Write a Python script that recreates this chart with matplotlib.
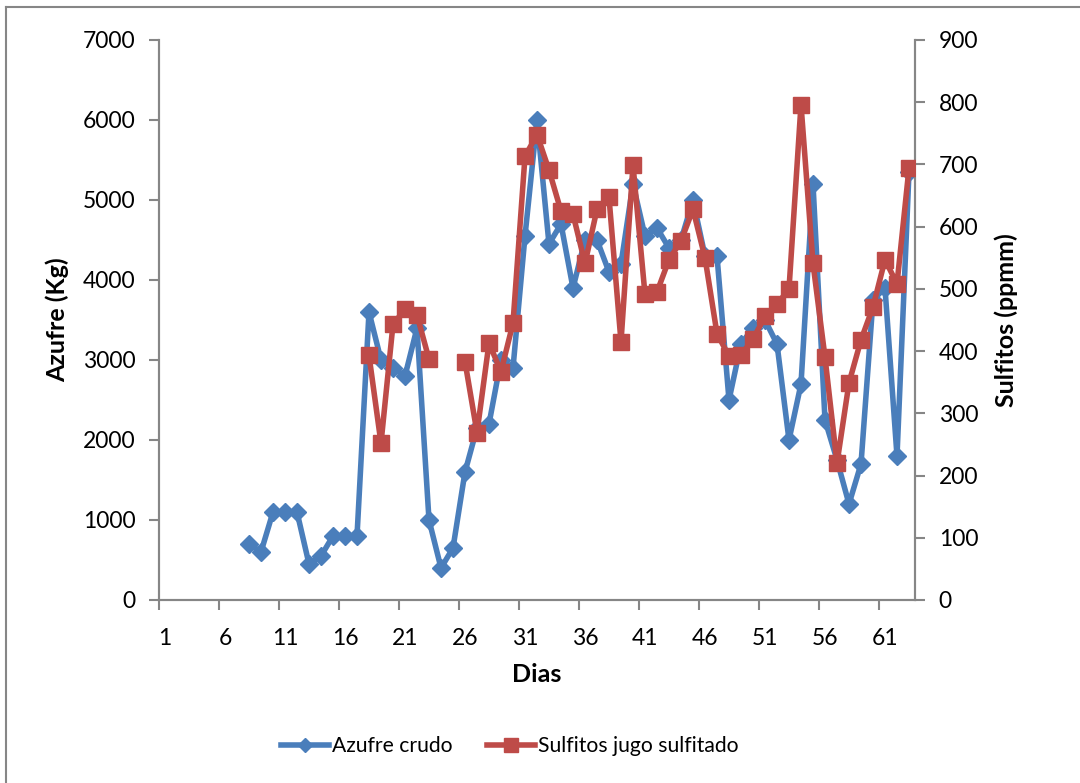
import numpy as np
import matplotlib
matplotlib.use("Agg")
import matplotlib.pyplot as plt

plt.rcParams['font.family'] = ['Lato', 'DejaVu Sans']

# dias 1..63
dias = np.arange(1, 64)

# Azufre crudo (Kg), dias 8..63
azufre_dias = np.arange(8, 64)
azufre = [700, 600, 1100, 1100, 1100, 450, 550, 800, 800, 800,
          3600, 3000, 2900, 2800, 3400, 1000, 400, 650, 1600, 2150,
          2200, 3000, 2900, 4550, 6000, 4450, 4700, 3900, 4500, 4500,
          4100, 4200, 5200, 4550, 4650, 4400, 4500, 5000, 4300, 4300,
          2500, 3200, 3400, 3500, 3200, 2000, 2700, 5200, 2250, 1750,
          1200, 1700, 3750, 3900, 1800, 5350]

# Sulfitos jugo sulfitado (ppmm), dias 18..63 (24 y 25 sin dato)
sulfitos_dias = np.arange(18, 64)
sulfitos = [393, 252, 443, 467, 458, 387, np.nan, np.nan, 383, 269,
            413, 367, 445, 713, 748, 691, 625, 620, 541, 628,
            647, 415, 699, 491, 495, 547, 577, 628, 550, 428,
            392, 394, 419, 456, 475, 500, 796, 541, 390, 220,
            349, 418, 471, 547, 508, 694]

xlabels = [str(d) for d in range(1, 62, 5)]

azul = '#4A7EBB'
rojo = '#BE4B48'
gris = '#868686'

fig = plt.figure(figsize=(10.8, 7.83), dpi=100)
ax = fig.add_axes([159/1080, 1-600/783, 756/1080, 560/783])
ax2 = ax.twinx()

ax.plot(azufre_dias, azufre, color=azul, lw=4, marker='D', ms=9,
        label='Azufre crudo', zorder=3)
ax2.plot(sulfitos_dias, sulfitos, color=rojo, lw=4, marker='s', ms=12,
         label='Sulfitos jugo sulfitado', zorder=3)

ax.set_xlim(0.5, 63.5)
ax.set_ylim(0, 7000)
ax2.set_ylim(0, 900)

# ticks on category boundaries, labels on category centres
ax.set_xticks(np.arange(0.5, 61, 5))
ax.set_xticklabels([])
ax.set_xticks(np.arange(1, 62, 5), minor=True)
ax.set_xticklabels(xlabels, minor=True)
ax.tick_params(axis='x', which='major', direction='out', length=7, color=gris, width=1.5)
ax.tick_params(axis='x', which='minor', length=0, labelsize=16.5, pad=20)

ax.set_yticks(np.arange(0, 7001, 1000))
ax.tick_params(axis='y', direction='out', length=7, color=gris, width=1.5, labelsize=16.5, pad=10)
ax2.set_yticks(np.arange(0, 901, 100))
ax2.tick_params(axis='y', direction='out', length=7, color=gris, width=1.5, labelsize=16.5, pad=10)

for a in (ax, ax2):
    a.spines['top'].set_visible(False)
    for s in ('left', 'right', 'bottom'):
        a.spines[s].set_color(gris)
        a.spines[s].set_linewidth(1.5)

ax.set_xlabel('Dias', fontsize=18, fontweight='bold', labelpad=10)
ax.set_ylabel('Azufre (Kg)', fontsize=18, fontweight='bold', labelpad=10)
ax2.set_ylabel('Sulfitos (ppmm)', fontsize=18, fontweight='bold', labelpad=12)

h1, l1 = ax.get_legend_handles_labels()
h2, l2 = ax2.get_legend_handles_labels()
leg = fig.legend(h1 + h2, l1 + l2, loc='center', bbox_to_anchor=(0.472, 1-746/783),
                 ncol=2, frameon=False, fontsize=15.2, handlelength=2.3, columnspacing=1.6,
                 handletextpad=0.15, markerscale=0.8)

# chart border
fig.add_artist(plt.Line2D([6/1080, 6/1080], [0, 1-7/783], color=gris, lw=1.5,
                          transform=fig.transFigure))
fig.add_artist(plt.Line2D([6/1080, 1], [1-7/783, 1-7/783], color=gris, lw=1.5,
                          transform=fig.transFigure))

fig.savefig('out.png', dpi=100)
